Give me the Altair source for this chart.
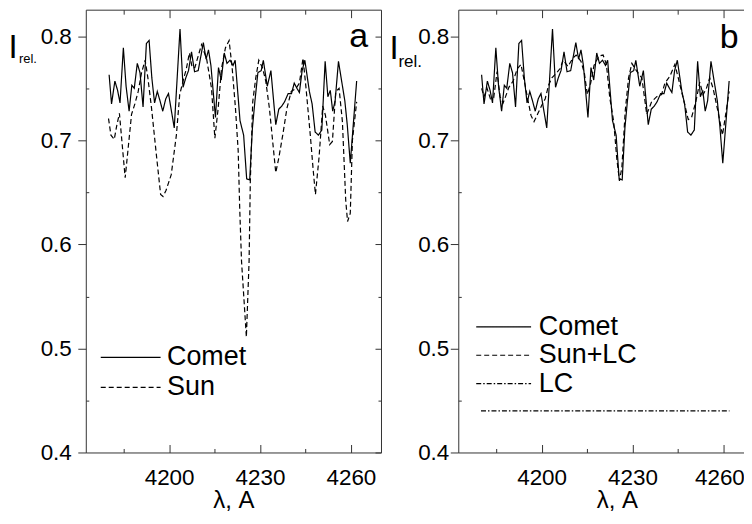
import altair as alt
import pandas as pd

FONT = "Liberation Sans"

# ---------------- data ----------------
comet_lambda = [4180.2, 4181.0, 4182.1, 4183.0, 4183.8, 4184.9, 4185.8, 4186.8, 4187.7, 4188.5,
                4189.5, 4190.4, 4191.4, 4192.5, 4193.4, 4194.3, 4195.2, 4196.1, 4197.0, 4197.9,
                4198.9, 4199.8, 4201.7, 4203.6, 4204.6, 4205.5, 4206.4, 4207.4, 4208.4, 4209.6,
                4211.3, 4212.2, 4213.0, 4213.8, 4215.3, 4216.3, 4217.2, 4218.2, 4219.1, 4220.1,
                4221.1, 4221.8, 4222.5, 4223.4, 4224.6, 4225.6, 4226.6, 4227.5, 4228.3, 4229.3,
                4230.4, 4231.1, 4232.4, 4233.6, 4235.2, 4236.2, 4237.2, 4238.1, 4239.3, 4240.4,
                4241.3, 4242.2, 4243.0, 4243.9, 4244.8, 4246.3, 4247.2, 4248.2, 4249.3, 4250.4,
                4251.5, 4252.4, 4253.2, 4254.0, 4254.8, 4255.9, 4257.0, 4258.0, 4258.8, 4259.8,
                4261.9]
comet_int = [0.763, 0.735, 0.757, 0.748, 0.736, 0.789, 0.752, 0.728, 0.753, 0.750,
             0.774, 0.765, 0.732, 0.793, 0.796, 0.760, 0.736, 0.747, 0.738, 0.728,
             0.740, 0.745, 0.712, 0.807, 0.751, 0.760, 0.767, 0.785, 0.766, 0.767,
             0.794, 0.778, 0.787, 0.772, 0.722, 0.770, 0.758, 0.784, 0.774, 0.777,
             0.772, 0.777, 0.752, 0.719, 0.705, 0.663, 0.662, 0.712, 0.737, 0.765,
             0.767, 0.777, 0.752, 0.767, 0.715, 0.730, 0.733, 0.737, 0.745, 0.745,
             0.755, 0.750, 0.746, 0.767, 0.777, 0.747, 0.735, 0.708, 0.705, 0.710,
             0.776, 0.742, 0.748, 0.728, 0.738, 0.776, 0.756, 0.738, 0.715, 0.678,
             0.757]

sun_lambda = [4180.0, 4180.8, 4181.9, 4182.7, 4183.6, 4184.7, 4185.5, 4186.4, 4187.6, 4188.7,
              4189.8, 4190.9, 4192.1, 4193.0, 4194.2, 4195.8, 4197.2, 4198.0, 4199.0, 4200.7,
              4202.4, 4203.5, 4204.6, 4205.7, 4206.7, 4207.6, 4208.5, 4210.7, 4212.4, 4214.0,
              4215.1, 4216.2, 4217.3, 4218.6, 4219.8, 4220.8, 4221.9, 4222.8, 4223.3, 4223.9,
              4225.5, 4226.4, 4226.8, 4227.6, 4228.6, 4229.6, 4230.8, 4231.9, 4233.1, 4235.2,
              4236.2, 4237.5, 4238.9, 4240.3, 4241.9, 4243.0, 4244.2, 4245.2, 4246.6, 4247.6,
              4248.3, 4249.5, 4250.7, 4251.6, 4253.0, 4253.9, 4255.0, 4256.1, 4257.2, 4258.3,
              4258.9, 4259.8, 4260.5, 4261.9]
sun_int = [0.721, 0.705, 0.701, 0.714, 0.726, 0.690, 0.664, 0.690, 0.725, 0.735,
           0.747, 0.765, 0.777, 0.760, 0.731, 0.686, 0.648, 0.646, 0.652, 0.667,
           0.705, 0.744, 0.757, 0.769, 0.784, 0.770, 0.770, 0.792, 0.778, 0.750,
           0.702, 0.731, 0.769, 0.789, 0.796, 0.770, 0.731, 0.690, 0.635, 0.584,
           0.511, 0.584, 0.660, 0.737, 0.760, 0.777, 0.770, 0.757, 0.731, 0.669,
           0.683, 0.705, 0.731, 0.747, 0.750, 0.755, 0.779, 0.750, 0.705, 0.670,
           0.648, 0.684, 0.733, 0.724, 0.696, 0.699, 0.747, 0.750, 0.718, 0.642,
           0.622, 0.630, 0.700, 0.737]

sunlc_lambda = [4180.2, 4181.0, 4182.0, 4183.1, 4184.2, 4185.3, 4186.3, 4187.3, 4188.1, 4189.2,
                4190.6, 4192.0, 4193.2, 4194.3, 4195.4, 4196.5, 4197.5, 4198.8, 4200.1, 4201.2,
                4202.3, 4203.4, 4205.0, 4206.1, 4207.1, 4208.7, 4210.3, 4211.4, 4213.0, 4214.1,
                4215.1, 4216.2, 4217.3, 4218.9, 4220.3, 4221.4, 4222.5, 4223.8, 4224.8, 4225.7,
                4226.5, 4227.6, 4228.7, 4229.8, 4231.5, 4233.1, 4234.7, 4236.3, 4238.0, 4239.6,
                4240.7, 4242.4, 4244.0, 4245.1, 4246.7, 4248.4, 4249.5, 4250.9, 4252.2, 4253.3,
                4254.4, 4255.5, 4256.6, 4258.2, 4259.7, 4260.5, 4261.9]
sunlc_int = [0.750, 0.742, 0.750, 0.740, 0.741, 0.766, 0.742, 0.736, 0.742, 0.751,
             0.757, 0.769, 0.773, 0.757, 0.740, 0.724, 0.718, 0.726, 0.734, 0.740,
             0.753, 0.760, 0.765, 0.769, 0.777, 0.771, 0.779, 0.782, 0.776, 0.765,
             0.744, 0.755, 0.772, 0.781, 0.782, 0.773, 0.741, 0.718, 0.683, 0.661,
             0.674, 0.728, 0.760, 0.774, 0.766, 0.760, 0.725, 0.737, 0.742, 0.744,
             0.755, 0.762, 0.773, 0.760, 0.741, 0.720, 0.722, 0.737, 0.756, 0.744,
             0.750, 0.760, 0.750, 0.728, 0.705, 0.720, 0.747]

lc_lambda = [4180.0, 4262.0]
lc_int = [0.44, 0.44]

x_major = [4200, 4230, 4260]
x_minor = [4185, 4215, 4245]
y_major = [0.4, 0.5, 0.6, 0.7, 0.8]
y_minor = [0.45, 0.55, 0.65, 0.75]

names_a = ["Comet", "Sun"]
names_b = ["Comet", "Sun+LC", "LC"]
x_title = "λ, A"
y_title_main = "I"
y_title_sub = "rel."
panel_letters = ["a", "b"]

# ---------------- chart ----------------
PX_PER_A = 3.038
H = 444
W_A, W_B = 296, 296
X_LO = 4172.5
Y_DOMAIN = [0.4, 0.8256]
LEG_ROW = 28  # legend entry height (px)


def series_df(lams, vals, name):
    return pd.DataFrame({"lam": lams, "val": vals, "series": name})


df_a = pd.concat([series_df(comet_lambda, comet_int, names_a[0]),
                  series_df(sun_lambda, sun_int, names_a[1])], ignore_index=True)
df_b = pd.concat([series_df(comet_lambda, comet_int, names_b[0]),
                  series_df(sunlc_lambda, sunlc_int, names_b[1]),
                  series_df(lc_lambda, lc_int, names_b[2])], ignore_index=True)

ys = alt.Scale(domain=Y_DOMAIN, nice=False, zero=False)


def tick_axis(orient, values, size, offset):
    return alt.Axis(orient=orient, values=values, tickSize=size, offset=offset,
                    labels=False, domain=False, grid=False, title=None, ticks=True)


def panel(df, W, names, dashes, leg_x, leg_y, line_len, row_pad, label_gap, letter, letter_x,
          letter_y, ylab_pad, i_x, i_y, i_size, rel_x, rel_y, rel_size, title_x, last_shift):
    xs = alt.Scale(domain=[X_LO, X_LO + W / PX_PER_A], nice=False, zero=False)
    r = LEG_ROW / 2
    sym_path = "M-1,0H%.4f" % ((line_len - r) / r)
    legend = alt.Legend(orient="none", legendX=leg_x, legendY=leg_y, direction="vertical",
                        title=None, symbolType=sym_path, symbolSize=LEG_ROW * LEG_ROW,
                        symbolStrokeWidth=1.2, symbolStrokeColor="black",
                        symbolFillColor="transparent",
                        labelFontSize=27, labelFont=FONT, labelColor="black",
                        labelOffset=label_gap - LEG_ROW, rowPadding=row_pad, padding=0, offset=0)
    label_offset = {"condition": {"test": "datum.value == %d" % x_major[-1], "value": last_shift},
                    "value": 0}
    lines = alt.Chart(df).mark_line(color="black", strokeWidth=1.2).encode(
        x=alt.X("lam:Q", scale=xs,
                axis=alt.Axis(orient="bottom", values=x_major, ticks=False, tickSize=0,
                              domain=False, grid=False, labelPadding=14, format="d",
                              labelOffset=label_offset,
                              title=x_title, titlePadding=0, titleX=title_x)),
        y=alt.Y("val:Q", scale=ys,
                axis=alt.Axis(orient="left", values=y_major, tickSize=8, domain=False,
                              grid=False, labelPadding=ylab_pad, format=".1f", title=None)),
        strokeDash=alt.StrokeDash("series:N", scale=alt.Scale(domain=names, range=dashes),
                                  legend=legend),
    )

    def ghost(xaxis, yaxis):
        return alt.Chart(df).mark_point(opacity=0).encode(
            x=alt.X("lam:Q", scale=xs, axis=xaxis),
            y=alt.Y("val:Q", scale=ys, axis=yaxis))

    g1 = ghost(tick_axis("top", x_major, 8, -H), tick_axis("right", y_minor, 3, -W))
    g2 = ghost(tick_axis("top", x_minor, 4, -H), tick_axis("left", y_major, 6, -W))
    g3 = ghost(tick_axis("bottom", x_major, 8, -H), tick_axis("left", y_minor, 3, -W))
    g4 = ghost(tick_axis("bottom", x_minor, 4.5, -H), None)

    one = pd.DataFrame({"k": [0]})
    t_i = alt.Chart(one).mark_text(text=y_title_main, font=FONT, fontSize=i_size, align="left",
                                   baseline="alphabetic", color="black").encode(
        x=alt.value(i_x), y=alt.value(i_y))
    t_rel = alt.Chart(one).mark_text(text=y_title_sub, font=FONT, fontSize=rel_size, align="left",
                                     baseline="alphabetic", color="black").encode(
        x=alt.value(rel_x), y=alt.value(rel_y))
    t_letter = alt.Chart(one).mark_text(text=letter, font=FONT, fontSize=34, align="right",
                                        baseline="alphabetic", color="black").encode(
        x=alt.value(letter_x), y=alt.value(letter_y))

    return alt.layer(lines, g1, g2, g3, g4, t_i, t_rel, t_letter).resolve_axis(
        x="independent", y="independent").properties(width=W, height=H)


pa = panel(df_a, W_A, names_a, [[1, 0], [5, 3]], 14, 333.7, 60, 2, 65.4, panel_letters[0],
           W_A - 13, 37, 6.5, -77.5, 48, 33, -67, 53, 13, 148, 0)
pb = panel(df_b, W_B, names_b, [[1, 0], [5, 3], [5, 2, 1.5, 2]], 17, 303, 55, 0.5, 61.7,
           panel_letters[1], W_B - 15, 38.5, 1.5, -69, 49, 33, -60, 57, 17, 159, -4)

# the right edge of panel b runs past the window in the original; clip it there
chart = alt.hconcat(pa, pb, spacing=6.5).resolve_scale(
    x="independent", y="independent", strokeDash="independent"
).resolve_legend(strokeDash="independent").properties(
    padding={"left": 0, "top": 0, "right": -11, "bottom": 0}
).configure_view(
    stroke="#333", strokeWidth=1
).configure_axis(
    labelFont=FONT, titleFont=FONT, labelFontSize=22.5, titleFontSize=24,
    labelColor="black", titleColor="black", tickColor="#333", titleFontWeight="normal"
)

chart.save("out.html", embed_options={"renderer": "svg", "actions": False})
